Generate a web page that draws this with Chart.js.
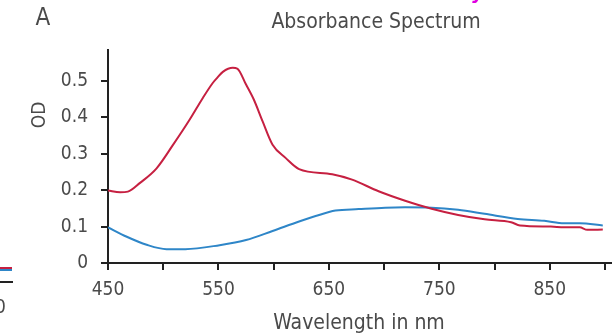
<!DOCTYPE html>
<html>
<head>
<meta charset="utf-8">
<script src="https://cdn.jsdelivr.net/npm/chart.js@4/dist/chart.umd.min.js"></script>
<style>
  html, body { margin: 0; padding: 0; background: #fff; }
  #wrap { width: 614px; height: 334px; position: relative; }
</style>
</head>
<body>
<div id="wrap"><canvas id="spectrumChart"></canvas></div>
<script>
// Spectrum (wavelength in nm, OD)
const redWavelength = [450, 461, 468, 479, 494, 509, 524, 536, 545, 549, 554, 563, 567, 575, 582, 590, 599, 611, 623, 653, 671, 695, 719, 743, 767, 791, 815, 823, 851, 863, 877, 884, 898];
const redOD = [0.199, 0.194, 0.196, 0.22, 0.26, 0.325, 0.394, 0.454, 0.495, 0.509, 0.525, 0.536, 0.534, 0.49, 0.449, 0.389, 0.325, 0.288, 0.258, 0.244, 0.229, 0.197, 0.171, 0.149, 0.132, 0.12, 0.112, 0.103, 0.1, 0.098, 0.098, 0.091, 0.092];

const blueWavelength = [450, 467, 485, 503, 520, 551, 575, 599, 623, 638, 656, 677, 701, 719, 743, 767, 791, 821, 845, 863, 877, 898];
const blueOD = [0.098, 0.072, 0.05, 0.038, 0.038, 0.049, 0.063, 0.088, 0.114, 0.129, 0.144, 0.148, 0.152, 0.153, 0.152, 0.146, 0.135, 0.121, 0.116, 0.109, 0.109, 0.103];

const xTickLabels = [450, 550, 650, 750, 850];
const yTickLabels = ['0', '0.1', '0.2', '0.3', '0.4', '0.5'];

const FONT = '"DejaVu Sans Condensed", "DejaVu Sans", sans-serif';
const TEXT = '#4a4a4a';
const AXIS = '#222';

function toPoints(xs, ys) {
  return xs.map((x, i) => ({ x: x, y: ys[i] }));
}

// Panel letter, title, axis titles and the clipped bits of the neighbouring panel
const decorations = {
  id: 'decorations',
  afterDraw(chart) {
    const ctx = chart.ctx;
    ctx.save();
    ctx.fillStyle = TEXT;
    ctx.textAlign = 'center';
    ctx.textBaseline = 'alphabetic';

    ctx.font = '24px ' + FONT;
    ctx.fillText('A', 43, 25);

    ctx.font = '21px ' + FONT;
    ctx.fillText('Absorbance Spectrum', 376, 28);

    ctx.font = '21px ' + FONT;
    ctx.fillText('Wavelength in nm', 359, 329);

    ctx.font = '19px ' + FONT;
    ctx.save();
    ctx.translate(45, 115);
    ctx.rotate(-Math.PI / 2);
    ctx.fillText('OD', 0, 0);
    ctx.restore();

    // stray glyph from the text above the figure
    ctx.fillStyle = '#e000e0';
    ctx.font = 'bold italic 20px ' + FONT;
    ctx.fillText('y', 478, -1);

    // edge of the panel on the left
    ctx.lineWidth = 2;
    ctx.strokeStyle = '#c62041';
    ctx.beginPath(); ctx.moveTo(0, 268); ctx.lineTo(12, 268); ctx.stroke();
    ctx.strokeStyle = '#2e86c8';
    ctx.beginPath(); ctx.moveTo(0, 270); ctx.lineTo(12, 270); ctx.stroke();
    ctx.strokeStyle = AXIS;
    ctx.beginPath(); ctx.moveTo(0, 282); ctx.lineTo(13, 282); ctx.stroke();
    ctx.fillStyle = TEXT;
    ctx.font = '19px ' + FONT;
    ctx.textAlign = 'left';
    ctx.fillText('0', -5, 313);
    ctx.restore();
  }
};

const ctx = document.getElementById('spectrumChart').getContext('2d');
new Chart(ctx, {
  type: 'line',
  data: {
    datasets: [{
      label: 'red',
      data: toPoints(redWavelength, redOD),
      borderColor: '#c62041',
      borderWidth: 2,
      pointRadius: 0,
      cubicInterpolationMode: 'monotone',
      fill: false
    }, {
      label: 'blue',
      data: toPoints(blueWavelength, blueOD),
      borderColor: '#2e86c8',
      borderWidth: 2,
      pointRadius: 0,
      cubicInterpolationMode: 'monotone',
      fill: false
    }]
  },
  options: {
    responsive: true,
    maintainAspectRatio: false,
    animation: false,
    layout: { padding: { top: 50, right: 0, left: 0, bottom: 0 } },
    plugins: {
      legend: { display: false },
      tooltip: { enabled: false }
    },
    scales: {
      x: {
        type: 'linear',
        min: 450,
        max: 905,
        afterFit: function(scale) { scale.height = 71; },
        border: { color: AXIS, width: 2 },
        grid: { drawOnChartArea: false, drawTicks: true, tickLength: 7, color: AXIS, lineWidth: 2 },
        ticks: {
          stepSize: 50,
          includeBounds: false,
          autoSkip: false,
          maxRotation: 0,
          padding: 9,
          color: TEXT,
          font: { family: FONT, size: 19 },
          callback: function(value) {
            return xTickLabels.includes(value) ? String(value) : '';
          }
        }
      },
      y: {
        min: 0,
        max: 0.585,
        afterFit: function(scale) { scale.width = 108; },
        border: { color: AXIS, width: 2 },
        grid: { drawOnChartArea: false, drawTicks: true, tickLength: 7, color: AXIS, lineWidth: 2 },
        ticks: {
          stepSize: 0.1,
          includeBounds: false,
          padding: 13,
          color: TEXT,
          font: { family: FONT, size: 19 },
          callback: function(value) {
            const i = Math.round(value * 10);
            return yTickLabels[i] !== undefined ? yTickLabels[i] : '';
          }
        }
      }
    }
  },
  plugins: [decorations]
});
</script>
</body>
</html>
